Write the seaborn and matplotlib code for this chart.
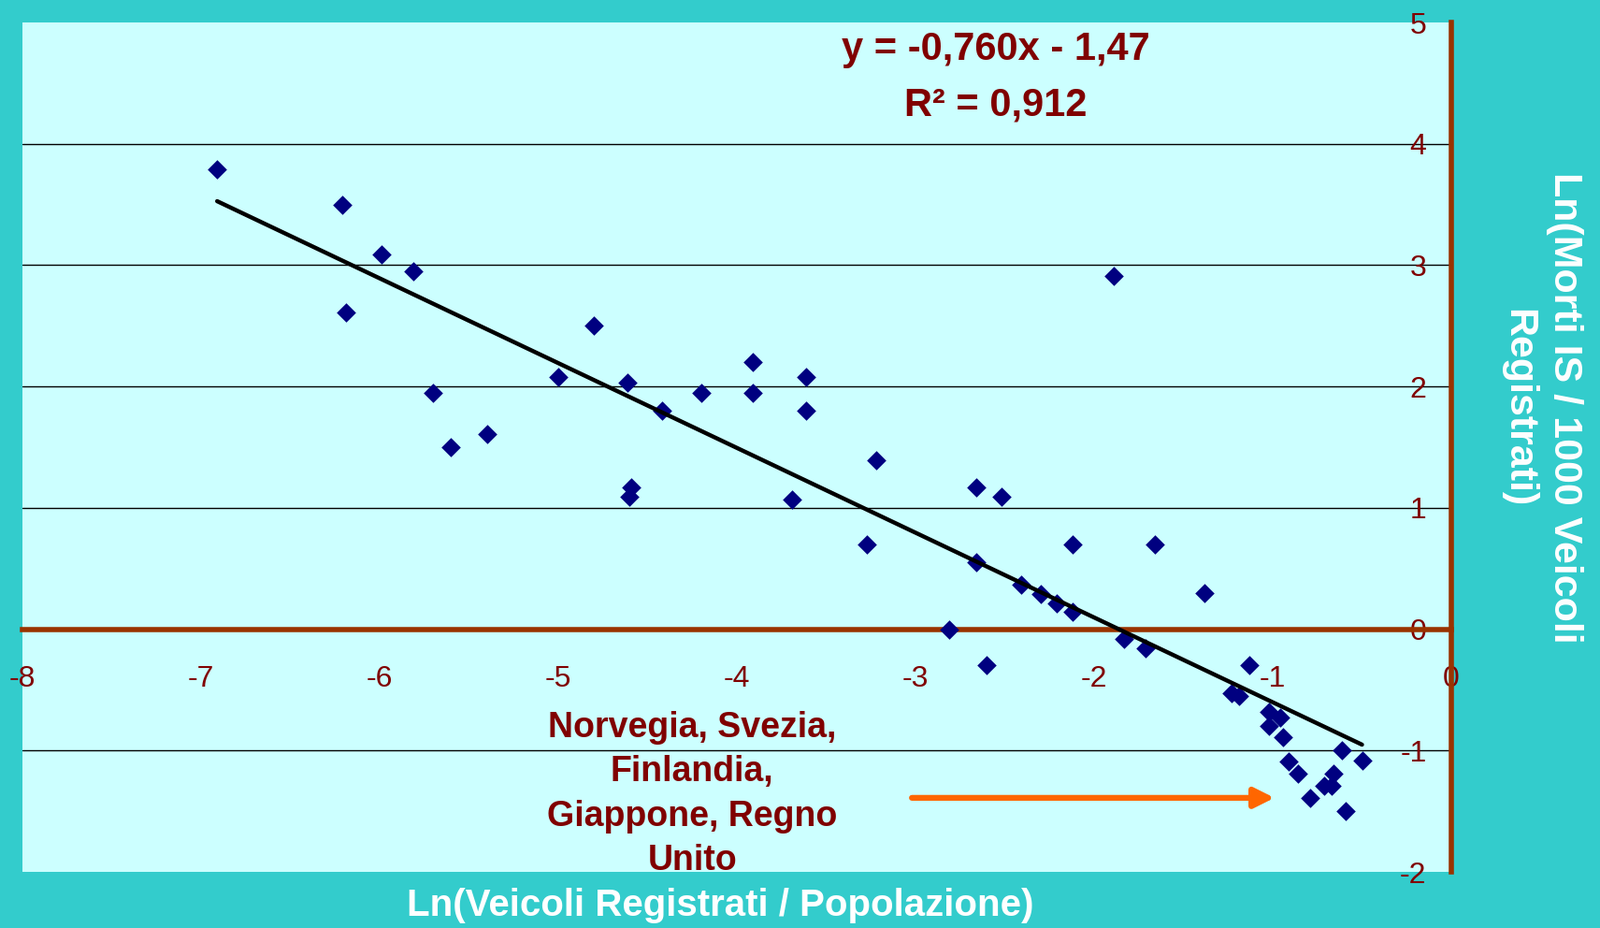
import matplotlib
matplotlib.use('Agg')
import matplotlib.pyplot as plt
import seaborn as sns
import pandas as pd

sns.set_style('white')
plt.rcParams['font.family'] = ['Liberation Sans', 'DejaVu Sans']
plt.rcParams['axes.unicode_minus'] = False

# Ln(Veicoli Registrati / Popolazione)
ln_veicoli = [-6.91, -6.21, -6.19, -5.99, -5.81, -5.70, -5.60, -5.40, -5.00, -4.80,
              -4.61, -4.59, -4.60, -4.42, -4.20, -3.91, -3.91, -3.61, -3.61, -3.69,
              -3.22, -3.27, -2.81, -2.66, -2.66, -2.60, -2.52, -2.41, -2.30, -2.21,
              -2.12, -2.12, -1.89, -1.83, -1.71, -1.66, -1.38, -1.23, -1.19, -1.13,
              -1.02, -0.96, -1.02, -0.94, -0.91, -0.86, -0.79, -0.71, -0.67, -0.66,
              -0.61, -0.59, -0.50]
# Ln(Morti IS / 1000 Veicoli Registrati)
ln_morti = [3.79, 3.50, 2.61, 3.09, 2.95, 1.95, 1.50, 1.61, 2.08, 2.50,
            2.03, 1.17, 1.09, 1.80, 1.95, 2.20, 1.95, 2.08, 1.80, 1.07,
            1.39, 0.70, 0.00, 1.17, 0.55, -0.30, 1.09, 0.37, 0.29, 0.21,
            0.14, 0.70, 2.91, -0.08, -0.16, 0.70, 0.30, -0.53, -0.55, -0.30,
            -0.68, -0.73, -0.80, -0.89, -1.09, -1.19, -1.39, -1.29, -1.29, -1.19,
            -1.00, -1.50, -1.08]

x_ticks = [-8, -7, -6, -5, -4, -3, -2, -1, 0]
y_ticks = [-2, -1, 0, 1, 2, 3, 4, 5]

equation = 'y = -0,760x - 1,47'
r_squared = 'R² = 0,912'
note = 'Norvegia, Svezia,\nFinlandia,\nGiappone, Regno\nUnito'

df = pd.DataFrame({'x': ln_veicoli, 'y': ln_morti})

teal = '#33CCCC'
dark_red = '#800000'
brown = '#993300'

fig = plt.figure(figsize=(17.11, 9.92), dpi=100, facecolor=teal)
ax = fig.add_axes([24 / 1711, 1 - 932 / 992, 1528 / 1711, 908 / 992])
ax.set_facecolor('#CCFFFF')

sns.scatterplot(data=df, x='x', y='y', marker='D', s=110, color='#000080',
                edgecolor='#000080', linewidth=0, ax=ax, zorder=3)
sns.regplot(data=df, x='x', y='y', scatter=False, ci=None, truncate=True,
            color='black', line_kws={'linewidth': 3.2, 'zorder': 4}, ax=ax)

ax.set_xlim(-8, 0)
ax.set_ylim(-2, 5)
ax.set_xticks(x_ticks)
ax.set_yticks(y_ticks)
ax.set_xlabel('')
ax.set_ylabel('')

# assi incrociati in (0, 0): asse x su y=0, asse y sul bordo destro
ax.spines['left'].set_position(('data', 0))
ax.spines['bottom'].set_position(('data', 0))
ax.spines['top'].set_visible(False)
ax.spines['right'].set_visible(False)
for side in ['left', 'bottom']:
    ax.spines[side].set_color(brown)
    ax.spines[side].set_linewidth(4)
    ax.spines[side].set_zorder(2)

ax.tick_params(axis='x', direction='out', length=7, width=3, color=brown,
               labelcolor=dark_red, labelsize=23, pad=21)
ax.tick_params(axis='y', direction='out', length=7, width=3, color=brown,
               labelcolor=dark_red, labelsize=23, pad=12)

ax.yaxis.grid(True, color='black', linewidth=1)
ax.xaxis.grid(False)
ax.set_axisbelow(True)
gl = ax.yaxis.get_gridlines()
gl[0].set_visible(False)
gl[-1].set_visible(False)

ax.text(-2.55, 4.78, equation, ha='center', va='center', fontsize=30,
        fontweight='bold', color=dark_red)
ax.text(-2.55, 4.32, r_squared, ha='center', va='center', fontsize=30,
        fontweight='bold', color=dark_red)

ax.text(-4.25, -1.36, note, ha='center', va='center', fontsize=27,
        fontweight='bold', color=dark_red, linespacing=1.41)
ax.annotate('', xy=(-0.99, -1.39), xytext=(-3.02, -1.39),
            arrowprops=dict(arrowstyle='-|>', color='#FF6600', lw=4.5,
                            mutation_scale=32, shrinkA=0, shrinkB=0))

fig.text(770 / 1711, 1 - 968 / 992, 'Ln(Veicoli Registrati / Popolazione)',
         ha='center', va='center', fontsize=29, fontweight='bold', color='white')
fig.text(1648 / 1711, 1 - 436 / 992, 'Ln(Morti IS / 1000 Veicoli\nRegistrati)',
         ha='center', va='center', rotation=270, fontsize=31, fontweight='bold',
         color='white', linespacing=1.34)

plt.savefig('out.png', dpi=100, facecolor=teal)
plt.close(fig)
